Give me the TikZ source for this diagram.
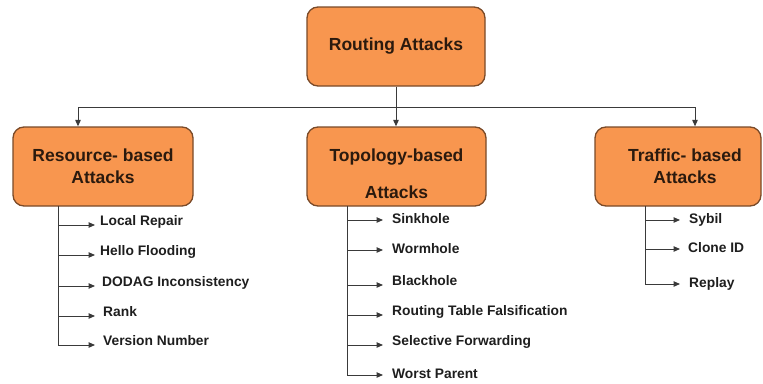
\documentclass[tikz,border=0pt]{standalone}
\usepackage{fontspec}
\setmainfont{Liberation Sans}
\usetikzlibrary{arrows.meta}
\definecolor{boxfill}{HTML}{F8964F}
\definecolor{boxdraw}{HTML}{7A4A28}
\definecolor{lnk}{HTML}{3A3A3A}
\definecolor{ttlcol}{HTML}{2B1A0E}
\definecolor{leafcol}{HTML}{1E1E1E}
\begin{document}
\begin{tikzpicture}[x=1pt,y=-1pt,
  box/.style={draw=boxdraw,line width=1.3pt,fill=boxfill,rounded corners=11pt,
              minimum width=180pt,minimum height=79pt,inner sep=0pt},
  ttl/.style={font=\bfseries\fontsize{17.5}{22}\selectfont,text=ttlcol,align=center,inner sep=0pt},
  leaf/.style={font=\bfseries\fontsize{13.8}{16}\selectfont,text=leafcol,
               inner ysep=0pt,inner xsep=5pt,text height=10pt,text depth=3pt},
  leafw/.style={leaf,inner xsep=9pt},
  link/.style={draw=lnk,line width=1pt},
  arr/.style={link,-{Triangle[length=6.5pt,width=5.5pt]}}]
\useasboundingbox (0,0) rectangle (763,383);

% main boxes
\node[box,ttl,minimum width=178pt] (root) at (396,46.5) {Routing Attacks};
\node[box,ttl] (left) at (103,166.5) {Resource- based\\Attacks};
\node[box,minimum width=179pt] (mid) at (396.5,166.5) {};
\node[ttl] (midt) at (396.5,173.5) {Topology-based\\[15pt]Attacks};
\node[box,minimum width=166pt] (right) at (678,166.5) {};
\node[ttl] (rightt) at (685,166) {Traffic- based\\Attacks};

% top connectors
\coordinate (jl) at (78,107);
\coordinate (jr) at (695,107);
\draw[link] (jl) -- (jr);
\draw[arr] (root.south) -- (root.south |- mid.north);
\draw[arr] (jl) -- (jl |- left.north);
\draw[arr] (jr) -- (jr |- right.north);

% resource-based leaves
\coordinate (lt) at (58,206);
\node[leaf,anchor=base west] (l1) at (95,225) {Local Repair};
\node[leaf,anchor=base west] (l2) at (95,255) {Hello Flooding};
\node[leaf,anchor=base west,inner xsep=7pt] (l3) at (95,286) {DODAG Inconsistency};
\node[leaf,anchor=base west,inner xsep=8pt] (l4) at (95,316) {Rank};
\node[leaf,anchor=base west,inner xsep=8pt] (l5) at (95,345) {Version Number};
\foreach \n in {l1,l2,l3,l4,l5}{\draw[arr] (lt) |- (\n.base west);}

% topology-based leaves
\coordinate (mt) at (347,206);
\node[leafw,anchor=west] (m1) at (383,220) {Sinkhole};
\node[leafw,anchor=west] (m2) at (383,250) {Wormhole};
\node[leafw,anchor=base west] (m3) at (383,285) {Blackhole};
\node[leafw,anchor=base west] (m4) at (383,315) {Routing Table Falsification};
\node[leafw,anchor=base west] (m5) at (383,345) {Selective Forwarding};
\node[leafw,anchor=west] (m6) at (383,375) {Worst Parent};
\draw[arr] (mt) |- (m1.west);
\draw[arr] (mt) |- (m2.west);
\draw[arr] (mt) |- (m3.base west);
\draw[arr] (mt) |- (m4.base west);
\draw[arr] (mt) |- (m5.base west);
\draw[arr] (mt) |- (m6.west);

% traffic-based leaves
\coordinate (rt) at (645,206);
\node[leafw,anchor=west] (r1) at (680,220) {Sybil};
\node[leafw,anchor=west,inner xsep=8pt] (r2) at (680,249) {Clone ID};
\node[leafw,anchor=west] (r3) at (680,284) {Replay};
\foreach \n in {r1,r2,r3}{\draw[arr] (rt) |- (\n.west);}
\end{tikzpicture}
\end{document}
